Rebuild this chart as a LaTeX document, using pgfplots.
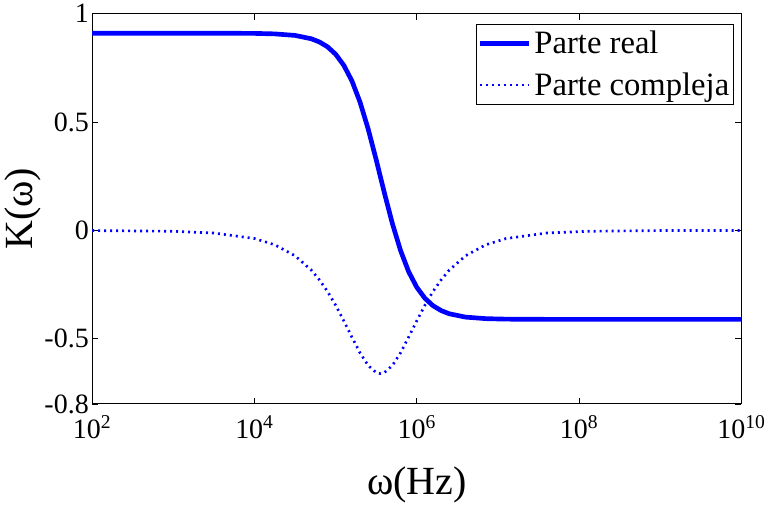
\documentclass[border=0pt]{standalone}
\usepackage{fontspec}
\setmainfont{Liberation Serif}
\usepackage{pgfplots}
\pgfplotsset{compat=1.18}

\begin{document}
\begin{tikzpicture}
\begin{axis}[
    scale only axis,
    width=487.5pt, height=293pt,
    xmode=log,
    xmin=1e2, xmax=1e10,
    ymin=-0.8, ymax=1,
    xtick={1e2,1e4,1e6,1e8,1e10},
    xticklabels={10\textsuperscript{2},10\textsuperscript{4},10\textsuperscript{6},10\textsuperscript{8},10\textsuperscript{10}},
    xminorticks=false,
    ytick={-0.8,-0.5,0,0.5,1},
    yticklabels={-0.8,-0.5,0,0.5,1},
    tick label style={font=\fontsize{21}{24}\selectfont},
    xticklabel style={yshift=-5pt},
    yticklabel style={xshift=1pt},
    label style={font=\fontsize{30}{34}\selectfont},
    xlabel={ω(Hz)},
    ylabel={K(ω)},
    xlabel style={yshift=-14pt},
    ylabel style={yshift=-4pt},
    major tick length=4.5pt,
    tick style={black, line width=0.6pt},
    axis line style={line width=0.8pt},
    legend style={at={(0.988,0.974)}, anchor=north east,
        font=\fontsize{24.5}{28}\selectfont, draw=black, line width=0.6pt,
        row sep=9pt, inner xsep=1pt, inner ysep=3pt,
        nodes={inner xsep=2pt}},
    legend cell align=left,
    legend image code/.code={\draw[#1] (0pt,0pt) -- (37pt,0pt);},
]

% parte real
\addplot[color={rgb,255:red,0;green,0;blue,255}, line width=3.5pt] coordinates {
(1e2,0.91)(1e3,0.91)(3162,0.9099)(1e4,0.909)(17783,0.9067)(31623,0.8996)
(50119,0.8842)(63096,0.8695)(79433,0.8471)(1e5,0.8128)(125893,0.7622)
(158489,0.6905)(199526,0.5927)(251189,0.4693)(316228,0.3256)(354813,0.25)
(398107,0.1744)(501187,0.0307)(630957,-0.0927)(794328,-0.1905)(1e6,-0.2622)
(1258925,-0.3128)(1584893,-0.3471)(1995262,-0.3695)(2511886,-0.3842)
(3981072,-0.3996)(7079458,-0.4067)(12589254,-0.409)(39810717,-0.4099)
(125892541,-0.41)(1e9,-0.41)(1e10,-0.41)
};
% parte compleja
\addplot[color={rgb,255:red,0;green,0;blue,255}, line width=2pt, dash pattern=on 1.5pt off 3pt] coordinates {
(1e2,-0.0004)(1e3,-0.0037)(3162,-0.0118)(1e4,-0.0372)(17783,-0.066)(31623,-0.1167)
(50119,-0.1828)(63096,-0.2276)(79433,-0.2812)(1e5,-0.3447)(125893,-0.4163)
(158489,-0.4915)(199526,-0.564)(251189,-0.6225)(316228,-0.6557)(354813,-0.66)
(398107,-0.6557)(501187,-0.6225)(630957,-0.564)(794328,-0.4915)(1e6,-0.4163)
(1258925,-0.3447)(1584893,-0.2812)(1995262,-0.2276)(2511886,-0.1828)
(3981072,-0.1167)(7079458,-0.066)(12589254,-0.0372)(39810717,-0.0118)
(125892541,-0.0037)(1e9,-0.0004)(1e10,0)
};
\legend{Parte real, Parte compleja}
\end{axis}
\end{tikzpicture}
\end{document}
